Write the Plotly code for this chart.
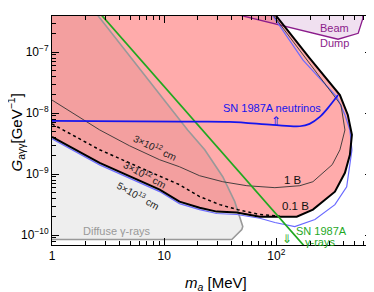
import math
import plotly.graph_objects as go

# ---- data (m_a in MeV, G in GeV^-1) ----
black_x = [1.0, 2.66, 9.12, 13.7, 20.7, 29.4, 44.4, 71.3, 152, 212, 333, 409, 453, 472, 434, 369, 198, 99, 90]
black_y = [4.08e-9, 1.53e-9, 5.56e-10, 3.54e-10, 2.82e-10, 2.43e-10, 2.34e-10, 2.01e-10, 2.01e-10, 2.62e-10,
           5.15e-10, 1.05e-9, 2.07e-9, 4.4e-9, 9.35e-9, 1.98e-8, 7.98e-8, 4.0e-7, 5e-7]

lb_x = [1.0, 2.66, 9.12, 13.7, 20.7, 29.4, 44.4, 71.3, 97.1, 146, 221, 333, 424, 453, 472, 453, 409, 347, 173, 92.7, 84]
lb_y = [3.79e-9, 1.42e-9, 5.17e-10, 3.29e-10, 2.62e-10, 2.26e-10, 2.18e-10, 1.89e-10, 1.61e-10, 1.38e-10, 1.80e-10,
        3.16e-10, 6.22e-10, 1.32e-9, 2.5e-9, 5.3e-9, 9.35e-9, 1.84e-8, 7.4e-8, 4.0e-7, 5e-7]

thin_x = [1.0, 2.66, 4.92, 9.12, 13.7, 20.7, 33.3, 54.6, 97.1, 162, 212, 315, 369, 409, 377, 183, 94.8, 86]
thin_y = [1.64e-8, 5.31e-9, 2.91e-9, 1.72e-9, 1.32e-9, 9.42e-10, 7.51e-10, 6.46e-10, 6.0e-10, 6.46e-10, 7.51e-10,
          1.43e-9, 2.5e-9, 5.3e-9, 1.36e-8, 7.98e-8, 4.0e-7, 5e-7]

dot_x = [1.0, 2.66, 7.43, 13.7, 20.7, 31.3, 45.2, 71.3, 107]
dot_y = [6.67e-9, 2.51e-9, 1.09e-9, 6.71e-10, 4.28e-10, 3.16e-10, 2.62e-10, 2.17e-10, 2.05e-10]

gray_x = [0.9, 2.33, 2.60, 4.0, 16.2, 23.0, 33.3, 42.6, 50.2, 49.2, 40.1, 0.9]
gray_y = [5e-7, 5e-7, 3.87e-7, 1.40e-7, 5.31e-9, 2.51e-9, 9.08e-10, 3.54e-10, 1.38e-10, 1.23e-10, 8.48e-11, 8.48e-11]

bd_x = [31.3, 71.3, 114, 355, 537, 592, 584]
bd_y = [4.85e-7, 3.33e-7, 2.76e-7, 1.63e-7, 2.04e-7, 3.60e-7, 4.5e-7]

green_x = [2.6, 31.6, 200]
green_y = [4.6e-7, 2.5e-9, 5.15e-11]

nu_x = [1.0, 13.7, 38.4, 93.0, 162, 198, 244, 289, 355]
nu_y = [7.46e-9, 7.25e-9, 7.18e-9, 6.41e-9, 6.1e-9, 6.67e-9, 8.67e-9, 1.22e-8, 1.98e-8]

x_ticks = [1, 10, 100]
x_ticktext = ["1", "10", "10<sup>2</sup>"]
y_ticks = [1e-10, 1e-9, 1e-8, 1e-7]
y_ticktext = ["10<sup>−10</sup>", "10<sup>−9</sup>", "10<sup>−8</sup>", "10<sup>−7</sup>"]

FONT = "Liberation Sans, Arial, sans-serif"

fig = go.Figure()
# diffuse gamma-ray region (fill)
fig.add_trace(go.Scatter(x=gray_x, y=gray_y, fill="toself", fillcolor="#eeeeee", mode="lines",
                         line=dict(width=0), hoverinfo="skip"))
# main excluded region (pink)
fig.add_trace(go.Scatter(x=[0.9] + black_x + [0.9], y=[4.3e-9] + black_y + [5e-7], fill="toself",
                         fillcolor="rgba(255,0,0,0.33)", mode="lines", line=dict(width=0), hoverinfo="skip"))
# gray outline
fig.add_trace(go.Scatter(x=gray_x[1:], y=gray_y[1:], mode="lines", line=dict(color="#999999", width=1.6),
                         hoverinfo="skip"))
# beam dump
fig.add_trace(go.Scatter(x=bd_x, y=bd_y, fill="toself", fillcolor="rgba(128,0,128,0.12)", mode="lines",
                         line=dict(color="#8b1c8b", width=1.3), hoverinfo="skip"))
# light blue contour
fig.add_trace(go.Scatter(x=lb_x, y=lb_y, mode="lines", line=dict(color="#6a6aff", width=1.2), hoverinfo="skip"))
# 1 B thin contour
fig.add_trace(go.Scatter(x=thin_x, y=thin_y, mode="lines", line=dict(color="#333333", width=0.9), hoverinfo="skip"))
# dotted
fig.add_trace(go.Scatter(x=dot_x, y=dot_y, mode="lines", line=dict(color="black", width=1.5, dash="dot"),
                         hoverinfo="skip"))
# black boundary
fig.add_trace(go.Scatter(x=black_x, y=black_y, mode="lines", line=dict(color="black", width=2), hoverinfo="skip"))
# green SN gamma
fig.add_trace(go.Scatter(x=green_x, y=green_y, mode="lines", line=dict(color="#1fa81f", width=1.7), hoverinfo="skip"))
# SN neutrinos
fig.add_trace(go.Scatter(x=nu_x, y=nu_y, mode="lines", line=dict(color="#1515ee", width=1.7, shape="spline"),
                         hoverinfo="skip"))


def ann(text, x, y, color, size=11, angle=0, xanchor="center"):
    fig.add_annotation(x=math.log10(x), y=math.log10(y), xref="x", yref="y", text=text, showarrow=False,
                       font=dict(family=FONT, size=size, color=color), textangle=angle, xanchor=xanchor,
                       yanchor="middle")


ann("SN 1987A neutrinos", 91.2, 1.22e-8, "#1515ee", 11)
ann("⇑", 99, 7.3e-9, "#1515ee", 12)
ann("Beam", 333, 2.47e-7, "#8b1c8b", 11)
ann("Dump", 333, 1.40e-7, "#8b1c8b", 11)
ann("1 B", 140, 8.1e-10, "#111111", 11.5)
ann("0.1 B", 149, 3.05e-10, "#111111", 11.5)
ann("SN 1987A", 252, 1.17e-10, "#1fa81f", 11)
ann("γ-rays", 246, 7.7e-11, "#1fa81f", 11)
ann("⇓", 124, 8.8e-11, "#1fa81f", 12)
ann("Diffuse γ-rays", 1.83, 1.19e-10, "#999999", 11, xanchor="left")
ann("3×10<sup>12</sup> cm", 8.2, 2.8e-9, "#222222", 10, angle=26)
ann("3×10<sup>12</sup> cm", 6.7, 1.02e-9, "#222222", 10, angle=28)
ann("5×10<sup>13</sup> cm", 5.8, 4.5e-10, "#222222", 10, angle=29)

# axis titles
fig.add_annotation(x=0.5125, y=-0.166, xref="paper", yref="paper", showarrow=False,
                   text="<i>m<sub>a</sub></i> [MeV]", font=dict(family=FONT, size=15, color="black"),
                   xanchor="center", yanchor="middle")
fig.add_annotation(x=-0.114, y=0.489, xref="paper", yref="paper", showarrow=False, textangle=-90,
                   text="<i>G</i><sub>aγγ</sub>[GeV<sup>−1</sup>]", font=dict(family=FONT, size=15, color="black"),
                   xanchor="center", yanchor="middle")

minor_x = [v * d for d in (1, 10, 100) for v in range(2, 10)]
minor_y = [v * d for d in (1e-11, 1e-10, 1e-9, 1e-8, 1e-7) for v in range(2, 10)]

fig.update_xaxes(type="log", range=[0, 2.853], showline=True, linecolor="black", linewidth=1, mirror="allticks",
                 ticks="inside", ticklen=7, tickcolor="black", tickvals=x_ticks, ticktext=x_ticktext,
                 showgrid=False, zeroline=False, tickfont=dict(family=FONT, size=12, color="black"),
                 minor=dict(tickvals=minor_x, ticks="inside", ticklen=4, tickcolor="black", showgrid=False))
fig.update_yaxes(type="log", range=[-10.162, -6.407], showline=True, linecolor="black", linewidth=1,
                 mirror="allticks", ticks="inside", ticklen=7, tickcolor="black", tickvals=y_ticks,
                 ticktext=y_ticktext, showgrid=False, zeroline=False,
                 tickfont=dict(family=FONT, size=12, color="black"),
                 minor=dict(tickvals=minor_y, ticks="inside", ticklen=4, tickcolor="black", showgrid=False))

# page body has an 8px margin: the figure is offset by (8, 8) in the window
fig.update_layout(width=366, height=284, margin=dict(l=44, r=2, t=8, b=47), showlegend=False,
                  plot_bgcolor="white", paper_bgcolor="white", font=dict(family=FONT))

fig.write_html("out.html")
